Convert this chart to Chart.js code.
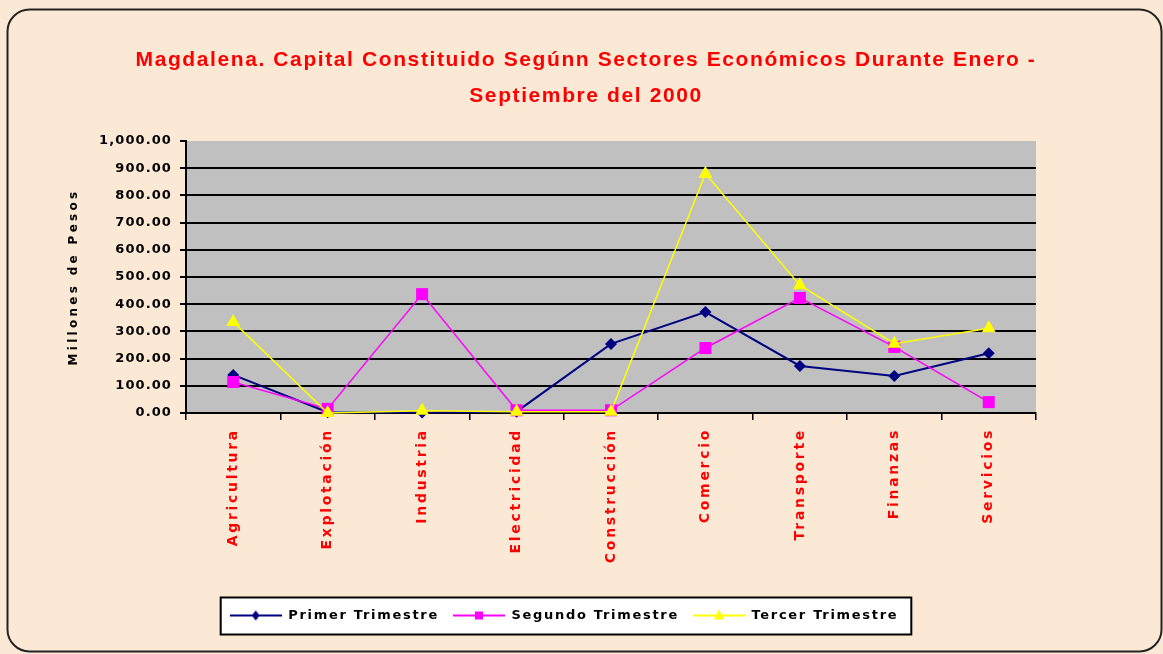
<!DOCTYPE html>
<html>
<head>
<meta charset="utf-8">
<script src="https://cdn.jsdelivr.net/npm/chart.js@4.4.1/dist/chart.umd.min.js"></script>
<style>
  html, body { margin: 0; padding: 0; background: #fbe9d6; }
  canvas { display: block; }
</style>
</head>
<body>
<canvas id="grafico" width="1163" height="654"></canvas>
<script>
// datos (millones de pesos)
const sectores = ['Agricultura', 'Explotación', 'Industria', 'Electricidad', 'Construcción',
                  'Comercio', 'Transporte', 'Finanzas', 'Servicios'];
const primerTrimestre  = [140, 3, 2, 5, 254, 371, 173, 136, 220];
const segundoTrimestre = [114, 15, 437, 10, 10, 239, 423, 243, 40];
const tercerTrimestre  = [335, 0, 8, 5, 5, 880, 470, 255, 312];
const nombresSeries = ['Primer Trimestre', 'Segundo Trimestre', 'Tercer Trimestre'];
const titulo = ['Magdalena. Capital Constituido Segúnn Sectores Económicos Durante Enero -',
                'Septiembre del 2000'];
const tituloEjeY = 'Millones de Pesos';
const yMin = 0, yMax = 1000, yPaso = 100;

const COLORES = {
    azul: '#000080',
    magenta: '#ff00ff',
    amarillo: '#ffff00',
    rojo: '#ff0000',
    gris: '#c0c0c0',
    fondo: '#fbe9d6'
};

// iconos de la leyenda: linea con el marcador al centro
function iconoLeyenda(color, forma) {
    const c = document.createElement('canvas');
    c.width = 52; c.height = 16;
    const g = c.getContext('2d');
    g.strokeStyle = color;
    g.lineWidth = 2;
    g.beginPath(); g.moveTo(0, 8); g.lineTo(52, 8); g.stroke();
    g.fillStyle = color;
    g.beginPath();
    if (forma === 'rombo') {
        g.moveTo(26, 3); g.lineTo(30, 8); g.lineTo(26, 13); g.lineTo(22, 8);
    } else if (forma === 'cuadro') {
        g.rect(22, 4, 8, 8);
    } else {
        g.moveTo(26, 2); g.lineTo(31, 12); g.lineTo(21, 12);
    }
    g.closePath(); g.fill();
    return c;
}
const iconos = [
    iconoLeyenda(COLORES.azul, 'rombo'),
    iconoLeyenda(COLORES.magenta, 'cuadro'),
    iconoLeyenda(COLORES.amarillo, 'triangulo')
];

// espaciado entre letras para imitar la fuente ancha del original
function espaciar(obj, metodo, sp) {
    const orig = obj[metodo];
    obj[metodo] = function () {
        const ctx = this.ctx;
        const antes = ctx.letterSpacing;
        ctx.letterSpacing = sp;
        const r = orig.apply(this, arguments);
        ctx.letterSpacing = antes;
        return r;
    };
}

const DESPLAZA_LEYENDA = -22;
const ESPACIO_LEYENDA = '1.7px';

const fondoPlugin = {
    id: 'fondo',
    beforeLayout(chart) {
        if (chart._espaciado) return;
        chart._espaciado = true;
        espaciar(chart.scales.x, 'drawLabels', '2.7px');
        espaciar(chart.scales.y, 'drawLabels', '1.1px');
        espaciar(chart.scales.y, 'drawTitle', '3.3px');
        espaciar(chart.titleBlock, 'draw', '1.6px');
        const leyenda = chart.legend;
        espaciar(leyenda, 'fit', ESPACIO_LEYENDA);
        const dibujar = leyenda.draw;
        leyenda.draw = function () {
            const ctx = this.ctx;
            const cajas = this.legendHitBoxes;
            ctx.save();
            ctx.translate(DESPLAZA_LEYENDA, 0);
            if (cajas.length) {
                const primera = cajas[0], ultima = cajas[cajas.length - 1];
                const cy = primera.top + primera.height / 2;
                const x0 = primera.left - 9, x1 = ultima.left + ultima.width + 13;
                ctx.fillStyle = '#ffffff';
                ctx.fillRect(x0, cy - 18, x1 - x0, 37);
                ctx.strokeStyle = '#000000';
                ctx.lineWidth = 2;
                ctx.strokeRect(x0, cy - 18, x1 - x0, 37);
            }
            ctx.letterSpacing = ESPACIO_LEYENDA;
            dibujar.apply(this, arguments);
            ctx.restore();
        };
    },
    beforeDraw(chart) {
        const ctx = chart.ctx;
        const a = chart.chartArea;
        ctx.save();
        ctx.fillStyle = COLORES.fondo;
        ctx.fillRect(0, 0, chart.width, chart.height);
        // marco redondeado
        ctx.strokeStyle = '#222222';
        ctx.lineWidth = 2;
        ctx.beginPath();
        ctx.roundRect(7.5, 9.5, 1154, 642, 22);
        ctx.stroke();
        // area gris del grafico
        ctx.fillStyle = COLORES.gris;
        ctx.fillRect(a.left, a.top, a.right - a.left, a.bottom - a.top);
        ctx.restore();
    }
};

const ctx = document.getElementById('grafico');

const data = {
    labels: sectores,
    datasets: [
        {
            label: nombresSeries[0],
            data: primerTrimestre,
            borderColor: COLORES.azul,
            backgroundColor: COLORES.azul,
            borderWidth: 2,
            pointStyle: 'rectRot',
            pointRadius: 6,
            pointHoverRadius: 6,
            order: 2
        },
        {
            label: nombresSeries[1],
            data: segundoTrimestre,
            borderColor: COLORES.magenta,
            backgroundColor: COLORES.magenta,
            borderWidth: 1.5,
            pointStyle: 'rect',
            pointRadius: 8.5,
            pointHoverRadius: 8.5,
            order: 1
        },
        {
            label: nombresSeries[2],
            data: tercerTrimestre,
            borderColor: COLORES.amarillo,
            backgroundColor: COLORES.amarillo,
            borderWidth: 1.5,
            pointStyle: 'triangle',
            pointRadius: 8,
            pointHoverRadius: 8,
            order: 0
        }
    ]
};
data.datasets.forEach(d => {
    d.fill = false;
    d.tension = 0;
    d.clip = false;
    d.pointBorderWidth = 0;
    d.pointBackgroundColor = d.borderColor;
    d.pointBorderColor = d.borderColor;
});

const config = {
    type: 'line',
    data: data,
    plugins: [fondoPlugin],
    options: {
        responsive: false,
        animation: false,
        layout: {
            padding: { top: 10, left: 20, right: 11, bottom: 22 }
        },
        plugins: {
            title: {
                display: true,
                text: titulo,
                color: COLORES.rojo,
                font: { family: 'Liberation Sans', size: 21, weight: 'bold', lineHeight: 1.7143 },
                padding: { top: 32, bottom: 27 }
            },
            legend: {
                display: true,
                position: 'bottom',
                labels: {
                    color: '#000000',
                    font: { family: 'DejaVu Sans', size: 13, weight: 'bold' },
                    usePointStyle: true,
                    pointStyleWidth: 52,
                    boxHeight: 12,
                    padding: 14,
                    generateLabels(chart) {
                        const items = Chart.defaults.plugins.legend.labels.generateLabels(chart);
                        items.sort((a, b) => a.datasetIndex - b.datasetIndex);
                        items.forEach(it => { it.pointStyle = iconos[it.datasetIndex]; });
                        return items;
                    }
                }
            },
            tooltip: { enabled: false }
        },
        scales: {
            x: {
                offset: true,
                afterFit(scale) { scale.height = 182; },
                grid: {
                    display: true,
                    offset: true,
                    drawOnChartArea: false,
                    drawTicks: true,
                    tickLength: 7,
                    color: '#000000',
                    lineWidth: 1.5
                },
                border: { display: true, color: '#000000', width: 2 },
                ticks: {
                    color: COLORES.rojo,
                    font: { family: 'DejaVu Sans', size: 14, weight: 'bold' },
                    minRotation: 90,
                    maxRotation: 90,
                    autoSkip: false,
                    padding: 8
                }
            },
            y: {
                min: yMin,
                max: yMax,
                afterFit(scale) { scale.width = 166; },
                grid: {
                    color: (c) => c.tick && c.tick.value === yMax ? 'rgba(0,0,0,0)' : '#000000',
                    tickColor: '#000000',
                    lineWidth: 2,
                    tickLength: 6
                },
                border: { display: true, color: '#000000', width: 2 },
                ticks: {
                    stepSize: yPaso,
                    color: '#000000',
                    padding: 8,
                    font: { family: 'DejaVu Sans', size: 13, weight: 'bold' },
                    callback: (v) => Number(v).toLocaleString('en-US', { minimumFractionDigits: 2, maximumFractionDigits: 2 })
                },
                title: {
                    display: true,
                    text: tituloEjeY,
                    color: '#000000',
                    font: { family: 'DejaVu Sans', size: 12, weight: 'bold' },
                    padding: { top: 47, bottom: 0 }
                }
            },
            derecha: {
                position: 'right',
                display: true,
                afterFit(scale) { scale.width = 116; },
                grid: { display: false },
                border: { display: false },
                ticks: { display: false }
            }
        }
    }
};

const grafico = new Chart(ctx, config);
</script>
</body>
</html>
